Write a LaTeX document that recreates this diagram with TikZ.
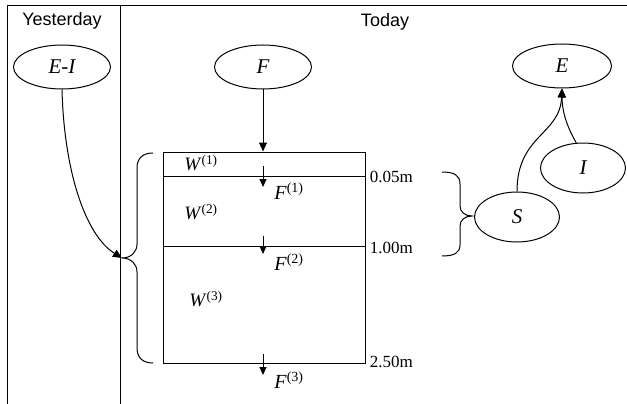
\documentclass[tikz,border=0pt]{standalone}
\usepackage{fontspec}
\setmainfont{Liberation Serif}
\newfontfamily\headfont{Liberation Sans}
\usetikzlibrary{shapes.geometric,arrows.meta}
\tikzset{
  px/.style={x=1pt,y=-1pt,line width=1pt},
  var/.style={ellipse,draw,minimum width=97pt,minimum height=44pt,inner sep=0pt,
    font=\fontsize{21}{21}\selectfont\itshape},
  head/.style={font=\fontsize{18}{18}\selectfont\headfont},
  depth/.style={anchor=west,font=\fontsize{17}{17}\selectfont},
  store/.style={font=\fontsize{19}{19}\selectfont},
  flux/.style={font=\fontsize{20}{20}\selectfont},
  flow/.style={-{Triangle[length=9pt,width=8pt]}},
  drip/.style={-{Triangle[length=8pt,width=7pt]}},
}
\begin{document}
\begin{tikzpicture}[px]
  \useasboundingbox (0,0) rectangle (627,404);
  % frame and columns
  \draw (7,404) -- (7,6) -- (627,6);
  \draw (120,6) -- (120,404);
  \node[head] (yest) at (62,21) {Yesterday};
  \node[head] (today) at (385,22) {Today};
  % variables
  \node[var] (EI) at (62,67) {E-I};
  \node[var] (F) at (263,67) {F};
  \node[var,minimum width=99pt] (E) at (562,66) {E};
  \node[var,minimum width=85pt,minimum height=50pt] (I) at (583,168) {I};
  \node[var,minimum width=85pt,minimum height=50pt] (S) at (517,217) {S};
  % soil column
  \node[draw,minimum width=202pt,minimum height=211pt,inner sep=0pt] (soil) at (264,257.5) {};
  \draw (163,176) -- (365,176);
  \draw (163,246) -- (365,246);
  \node[store] (W1) at (201,163) {\textit{W}\textsuperscript{(1)}};
  \node[store] (W2) at (201,212) {\textit{W}\textsuperscript{(2)}};
  \node[store] (W3) at (206,299) {\textit{W}\textsuperscript{(3)}};
  \node[depth] (d1) at (366,177) {0.05m};
  \node[depth] (d2) at (366,248) {1.00m};
  \node[depth] (d3) at (366,362) {2.50m};
  % percolation between layers
  \foreach \t/\b/\k/\y in {166/187/1/191,236/254/2/262,354/375/3/380}{
    \draw[drip] (263,\t) -- (263,\b);
    \node[flux] (F\k) at (289,\y) {\textit{F}\textsuperscript{(\k)}};
  }
  \draw[flow] (F) -- (F |- soil.north);
  % braces
  \coordinate (brL) at (122,258);
  \draw (153,153) .. controls (143,153) and (137,158) .. (137,168) -- (137,244)
    .. controls (137,252) and (131,258) .. (brL)
    .. controls (131,258) and (137,264) .. (137,272) -- (137,348)
    .. controls (137,358) and (143,363) .. (153,363);
  \coordinate (brR) at (472,216);
  \draw (442,172) .. controls (454,172) and (460,175) .. (460,184) -- (460,206)
    .. controls (460,212) and (465,216) .. (brR)
    .. controls (465,216) and (460,220) .. (460,226) -- (460,245)
    .. controls (460,253) and (454,256) .. (442,256);
  % links
  \draw[flow] (EI.south) .. controls (64,170) and (85,235) .. (brL);
  \draw[flow] (S.north) .. controls (517,135) and (560,135) .. (E.south);
  \draw[flow] (I.105) .. controls (566,125) and (562,110) .. (E.south);
\end{tikzpicture}
\end{document}
